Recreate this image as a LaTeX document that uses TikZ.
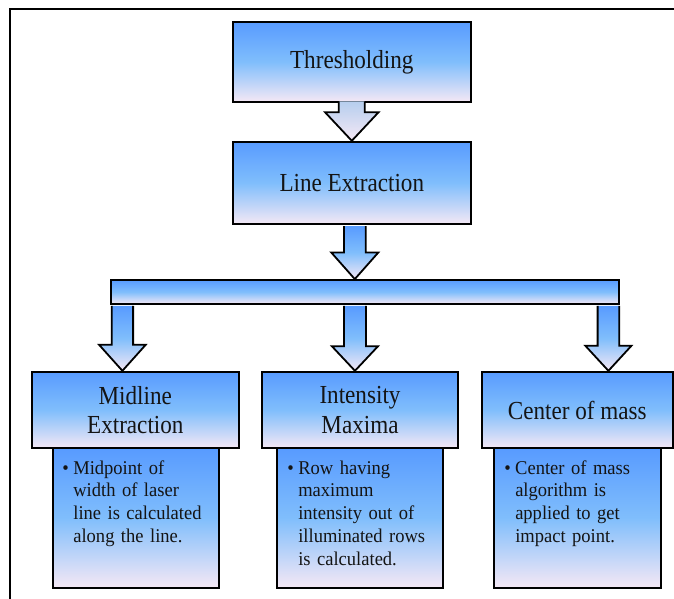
\documentclass[tikz,border=0pt]{standalone}
\usepackage{fontspec}
\setmainfont{Liberation Serif}
\newfontfamily\titlefont[FakeStretch=0.89]{Liberation Serif}
\newfontfamily\bodyfont[FakeStretch=0.95]{Liberation Serif}
\usetikzlibrary{calc}
\definecolor{gtop}{RGB}{88,155,255}
\definecolor{gmid}{RGB}{128,190,252}
\definecolor{gbot}{RGB}{245,232,245}
\definecolor{glight}{RGB}{182,206,238}
\definecolor{ink}{RGB}{20,20,20}
\newcommand\bul{\llap{\textbullet\hspace{4.5pt}}}
% #1 from, #2 to, #3 shaft half width, #4 head half width, #5 head length, #6 top offset (down), #7 fill style
\newcommand\blockarrow[7]{%
  \path[#7] let \p1=(#1), \p2=(#2) in
    ({\x1-#3pt},{\y1-(#6pt)}) -- ({\x1-#3pt},{\y2+#5pt}) -- ({\x1-#4pt},{\y2+#5pt}) -- (\x1,\y2)
    -- ({\x1+#4pt},{\y2+#5pt}) -- ({\x1+#3pt},{\y2+#5pt}) -- ({\x1+#3pt},{\y1-(#6pt)}) -- cycle;
  \draw[arrowline] let \p1=(#1), \p2=(#2) in
    ({\x1-#3pt},{\y1-(#6pt)}) -- ({\x1-#3pt},{\y2+#5pt}) -- ({\x1-#4pt},{\y2+#5pt}) -- (\x1,\y2)
    -- ({\x1+#4pt},{\y2+#5pt}) -- ({\x1+#3pt},{\y2+#5pt}) -- ({\x1+#3pt},{\y1-(#6pt)});
}
\tikzset{
  gradfill/.style={top color=gtop, bottom color=gbot, middle color=gmid},
  lightfill/.style={top color=glight, bottom color=gbot},
  box/.style={draw=black, line width=1.8pt, gradfill, inner sep=0pt, align=center,
    font=\titlefont\fontsize{26}{29.3}\selectfont, text=ink},
  subbox/.style={draw=black, line width=1.8pt, gradfill, inner sep=0pt},
  bodytext/.style={anchor=base west, inner sep=0pt, text width=140pt, align=left,
    font=\bodyfont\fontsize{19.5}{22.8}\selectfont, text=ink},
  arrowline/.style={draw=black, line width=1.8pt, line join=miter},
}
\begin{document}
\begin{tikzpicture}[x=1pt,y=-1pt]
\useasboundingbox (0,0) rectangle (674,599);
\draw[line width=2pt] (10,599) -- (10,9.5) -- (674,9.5);

% main boxes
\node[box, minimum width=238.3pt, minimum height=79.7pt] (thr) at (351.8,61.9) {Thresholding};
\node[box, minimum width=238.3pt, minimum height=82.6pt] (lin) at (351.8,183) {Line Extraction};
\node[box, minimum width=507.7pt, minimum height=24pt] (bar) at (365.15,292) {};

% sub boxes (drawn first, title boxes overlap their top)
\node[subbox, minimum width=165.7pt, minimum height=139.4pt] (mids) at (136.2,518) {};
\node[subbox, minimum width=166.6pt, minimum height=139.4pt] (ints) at (360,518) {};
\node[subbox, minimum width=166.7pt, minimum height=139.4pt] (coms) at (577.3,518) {};

\node[box, minimum width=207.3pt, minimum height=76.6pt] (mid) at (135.3,410) {Midline\\Extraction};
\node[box, minimum width=196.5pt, minimum height=76.6pt] (inte) at (360,410) {Intensity\\Maxima};
\node[box, minimum width=191.3pt, minimum height=76.6pt] (com) at (577.3,410) {Center of mass};

% body texts
\node[bodytext] (t1) at ($(mids.north west)+(20.7,26.7)$) {\bul Midpoint of\\width of laser\\line is calculated\\along the line.};
\node[bodytext] (t2) at ($(ints.north west)+(22.3,26.7)$) {\bul Row having\\maximum\\intensity out of\\illuminated rows\\is calculated.};
\node[bodytext] (t3) at ($(coms.north west)+(22,26.7)$) {\bul Center of mass\\algorithm is\\applied to get\\impact point.};

% block arrows
\blockarrow{thr.south}{lin.north}{13}{26.7}{28.5}{-1.3}{lightfill}
\blockarrow{$(lin.south)+(3,0)$}{bar.north}{10.9}{23.6}{26.7}{1}{gradfill}
\blockarrow{$(bar.south west)+(12,0)$}{mid.north}{10.7}{23.3}{26}{1}{gradfill}
\blockarrow{$(bar.south)+(-10.2,0)$}{inte.north}{11}{23}{24.5}{1}{gradfill}
\blockarrow{$(bar.south east)+(-11.5,0)$}{com.north}{10.8}{23}{25}{1}{gradfill}
\end{tikzpicture}
\end{document}
